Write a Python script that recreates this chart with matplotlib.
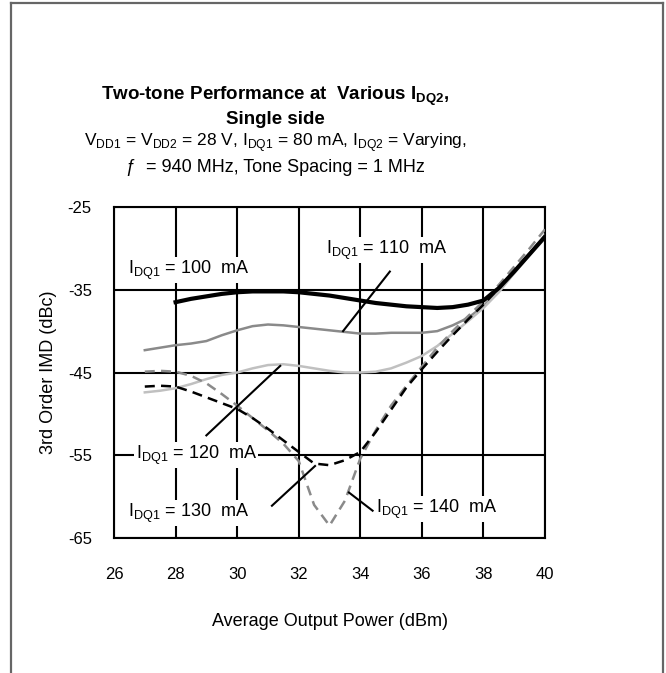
import numpy as np
import matplotlib
matplotlib.use("Agg")
import matplotlib.pyplot as plt
from matplotlib.lines import Line2D

plt.rcParams['font.family'] = ['Liberation Sans', 'DejaVu Sans']
plt.rcParams['mathtext.fontset'] = 'custom'
plt.rcParams['mathtext.rm'] = 'Liberation Sans'
plt.rcParams['axes.unicode_minus'] = False

# ---------- datos
x_a = [28, 28.5, 29, 29.5, 30, 30.5, 31, 31.5, 32, 32.5, 33, 33.5, 34, 34.5,
       35, 35.5, 36, 36.5, 37, 37.5, 38, 38.5, 39, 39.5, 40]
x_b = [27, 27.5] + x_a

imd_100 = [-36.5, -36.1, -35.8, -35.5, -35.3, -35.2, -35.2, -35.2, -35.3, -35.5,
           -35.7, -36.0, -36.3, -36.6, -36.8, -37.0, -37.1, -37.2, -37.1, -36.8,
           -36.3, -34.8, -32.8, -30.7, -28.6]
imd_110 = [-42.3, -42.0, -41.7, -41.5, -41.2, -40.5, -39.9, -39.4, -39.2, -39.3,
           -39.5, -39.7, -39.9, -40.1, -40.3, -40.3, -40.2, -40.2, -40.2, -40.0,
           -39.3, -38.4, -37.0, -35.0, -32.8, -30.6, -28.4]
imd_120 = [-47.4, -47.2, -46.9, -46.4, -45.8, -45.3, -45.0, -44.5, -44.1, -44.0,
           -44.2, -44.5, -44.8, -45.0, -45.0, -44.9, -44.5, -43.8, -43.0, -41.8,
           -40.3, -38.8, -37.2, -35.3, -33.0, -30.8, -28.5]
imd_130 = [-46.7, -46.6, -46.7, -47.3, -48.0, -48.7, -49.4, -50.5, -51.8, -53.2,
           -54.6, -56.0, -56.2, -55.6, -54.6, -52.2, -49.5, -46.8, -44.6, -42.5,
           -40.5, -38.6, -36.8, -34.8, -32.7, -30.6, -28.5]
imd_140 = [-44.9, -44.8, -44.9, -45.4, -46.3, -47.6, -49.0, -50.5, -52.0, -53.6,
           -55.7, -61.0, -63.5, -60.5, -55.4, -52.0, -49.0, -46.6, -44.3, -42.0,
           -40.0, -38.2, -36.4, -34.4, -32.2, -30.0, -27.7]

xticks = [26, 28, 30, 32, 34, 36, 38, 40]
yticks = [-25, -35, -45, -55, -65]

fig = plt.figure(figsize=(6.66, 6.73), dpi=100)
ax = fig.add_axes([0.1712, 0.2006, 0.6471, 0.4918])

# marco gris de la figura (sin borde inferior)
for xs, ys in [([11/666, 11/666], [0, 1-3/673]), ([11/666, 663/666], [1-3/673, 1-3/673]),
               ([663/666, 663/666], [1-3/673, 0])]:
    fig.add_artist(Line2D(xs, ys, color='#666666', lw=1.6))

ax.plot(x_a, imd_100, color='black', lw=3.0, zorder=5)
ax.plot(x_b, imd_110, color='#8a8a8a', lw=1.8, zorder=4)
ax.plot(x_b, imd_120, color='#c0c0c0', lw=1.8, zorder=4)
ax.plot(x_b, imd_140, color='#8a8a8a', lw=1.8, ls=(0, (4, 2.5)), zorder=4)
ax.plot(x_b, imd_130, color='black', lw=1.8, ls=(0, (4, 2.5)), zorder=5)

ax.set_xlim(26, 40)
ax.set_ylim(-65, -25)
ax.set_xticks(xticks)
ax.set_yticks(yticks)
ax.grid(True, color='black', lw=1.5)
ax.set_axisbelow(True)
for s in ax.spines.values():
    s.set_linewidth(1.5)
ax.tick_params(length=0, labelsize=12)
ax.tick_params(axis='x', pad=21)
ax.tick_params(axis='y', pad=16)
ax.set_xlabel('Average Output Power (dBm)', fontsize=13, labelpad=22)
ax.set_ylabel('3rd Order IMD (dBc)', fontsize=13, labelpad=8)

#----------- etiquetas de cada curva
box = dict(facecolor='white', edgecolor='none', pad=1)
lab = r'I$_{\mathregular{DQ1}}$ = %d  mA'
ax.text(26.45, -32.6, lab % 100, fontsize=13, va='center', bbox=box, zorder=6)
ax.text(32.9, -30.2, lab % 110, fontsize=13, va='center', bbox=box, zorder=6)
ax.text(26.7, -55.0, lab % 120, fontsize=13, va='center', bbox=box, zorder=6)
ax.text(26.45, -62.0, lab % 130, fontsize=13, va='center', bbox=box, zorder=6)
ax.text(34.5, -61.5, lab % 140, fontsize=13, va='center', bbox=box, zorder=6)

ax.plot([34.96, 33.44], [-32.8, -40.0], color='black', lw=1.5, zorder=6)
ax.plot([29.0, 31.4], [-52.6, -44.2], color='black', lw=1.5, zorder=6)
ax.plot([31.13, 32.53], [-61.1, -56.3], color='black', lw=1.5, zorder=6)
ax.plot([34.4, 33.63], [-61.7, -59.5], color='black', lw=1.5, zorder=6)

#----------- titulos
fig.text(275/666, 1-96/673, r'Two-tone Performance at  Various I$_{\mathregular{DQ2}}$,',
         ha='center', va='center', fontsize=13.5, fontweight='bold')
fig.text(275/666, 1-119/673, 'Single side', ha='center', va='center',
         fontsize=13.5, fontweight='bold')
fig.text(275/666, 1-143/673,
         r'V$_{\mathregular{DD1}}$ = V$_{\mathregular{DD2}}$ = 28 V, I$_{\mathregular{DQ1}}$ = 80 mA, '
         r'I$_{\mathregular{DQ2}}$ = Varying,', ha='center', va='center', fontsize=12.5)
fig.text(275/666, 1-167/673, 'ƒ  = 940 MHz, Tone Spacing = 1 MHz', ha='center',
         va='center', fontsize=13)

fig.savefig('out.png', dpi=100)
